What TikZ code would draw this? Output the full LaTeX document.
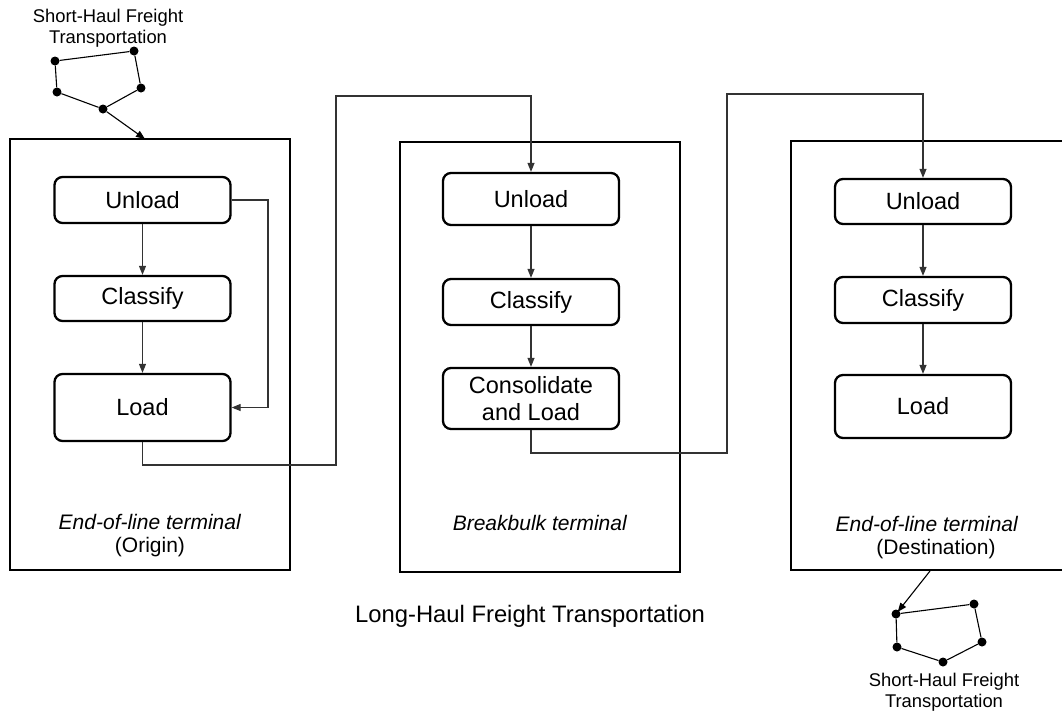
\documentclass[tikz,border=0pt]{standalone}
\usepackage{fontspec}
\setmainfont{Liberation Sans}
\usetikzlibrary{arrows.meta}
\tikzset{
  terminal/.style={draw, line width=2.8pt, rectangle, inner sep=0pt,
    minimum width=280pt},
  task/.style={draw, line width=2.3pt, rounded corners=8pt, inner sep=0pt,
    minimum width=176pt, align=center,
    font=\fontsize{23.5}{27}\selectfont},
  flow/.style={draw=black!80, line width=1.1pt,
    -{Triangle[length=9pt,width=7pt]}},
  route/.style={line width=1.1pt},
  stop/.style={circle, fill=black, inner sep=0pt, minimum size=9pt},
  caption/.style={align=center, inner sep=0pt, anchor=base,
    font=\fontsize{21}{23}\selectfont},
  shorthaul/.style={align=center, inner sep=0pt, anchor=base,
    font=\fontsize{18.4}{21}\selectfont}
}
\begin{document}
\begin{tikzpicture}[x=1pt,y=-1pt]
\useasboundingbox (0,0) rectangle (1062,713);
\clip (0,0) rectangle (1062,713);

% terminals
\node[terminal, minimum height=431pt] (b1) at (150,354.5) {};
\node[terminal, minimum height=430pt] (b2) at (540,357) {};
\node[terminal, minimum height=429pt] (b3) at (931,355.5) {};

% origin terminal
\node[task, minimum height=46pt] (u1) at (142.5,200) {Unload};
\node[task, minimum height=45pt] (c1) at (142.5,298.5) {Classify};
\node[task, minimum height=67pt] (l1) at (142.5,407.5) {Load};

% breakbulk terminal
\node[task, minimum height=52pt] (u2) at (531,199) {Unload};
\node[task, minimum height=46pt] (c2) at (531,302) {Classify};
\node[task, minimum height=61pt] (l2) at (531,398.5) {Consolidate\\and Load};

% destination terminal
\node[task, minimum height=45pt] (u3) at (923,201.5) {Unload};
\node[task, minimum height=46pt] (c3) at (923,300) {Classify};
\node[task, minimum height=63pt] (l3) at (923,406.5) {Load};

% captions (base anchor sits on the last line)
\node[caption] (cap1) at (150,552) {\textit{End-of-line terminal}\\(Origin)};
\node[caption] (cap2) at (540,530) {\textit{Breakbulk terminal}};
\node[caption] (cap3) at (927,554) {\textit{End-of-line terminal}\\\hspace*{18pt}(Destination)};
\node[anchor=base, inner sep=0pt, font=\fontsize{23.8}{27}\selectfont] (lh)
  at (530,622) {Long-Haul Freight Transportation};

% flows inside the terminals
\draw[flow] (u1) -- (c1);
\draw[flow] (c1) -- (l1);
\coordinate (fb) at (268,300);
\draw[flow] (u1.east) -| (fb) |- (l1.east);
\draw[flow] (u2) -- (c2);
\draw[flow] (c2) -- (l2);
\draw[flow] (u3) -- (c3);
\draw[flow] (c3) -- (l3);

% long-haul links between terminals
\coordinate (h1a) at (336,465);
\coordinate (h1b) at (336,96);
\draw[flow] (l1.south) |- (h1a) -- (h1b) -| (u2.north);
\coordinate (h2a) at (727,453);
\coordinate (h2b) at (727,94);
\draw[flow] (l2.south) |- (h2a) -- (h2b) -| (u3.north);

% short-haul pickup tour
\node[shorthaul] (sh1) at (108,43) {Short-Haul Freight\\Transportation};
\node[stop] (p1) at (55,61) {};
\node[stop] (p2) at (134,51) {};
\node[stop] (p3) at (141,88) {};
\node[stop] (p4) at (103,109) {};
\node[stop] (p5) at (57,92) {};
\draw[route] (p1) -- (p2) -- (p3) -- (p4) -- (p5) -- (p1);
\coordinate (in1) at (145,139);
\draw[flow, draw=black] (p4) -- (in1);

% short-haul delivery tour
\node[stop] (q1) at (896,614) {};
\node[stop] (q2) at (974,604) {};
\node[stop] (q3) at (982,642) {};
\node[stop] (q4) at (943,662) {};
\node[stop] (q5) at (897,647) {};
\draw[route] (q1) -- (q2) -- (q3) -- (q4) -- (q5) -- (q1);
\coordinate (out3) at (930,571);
\draw[flow, draw=black, shorten >=-2pt] (out3) -- (q1);
\node[shorthaul] (sh2) at (944,707) {Short-Haul Freight\\Transportation};
\end{tikzpicture}
\end{document}
